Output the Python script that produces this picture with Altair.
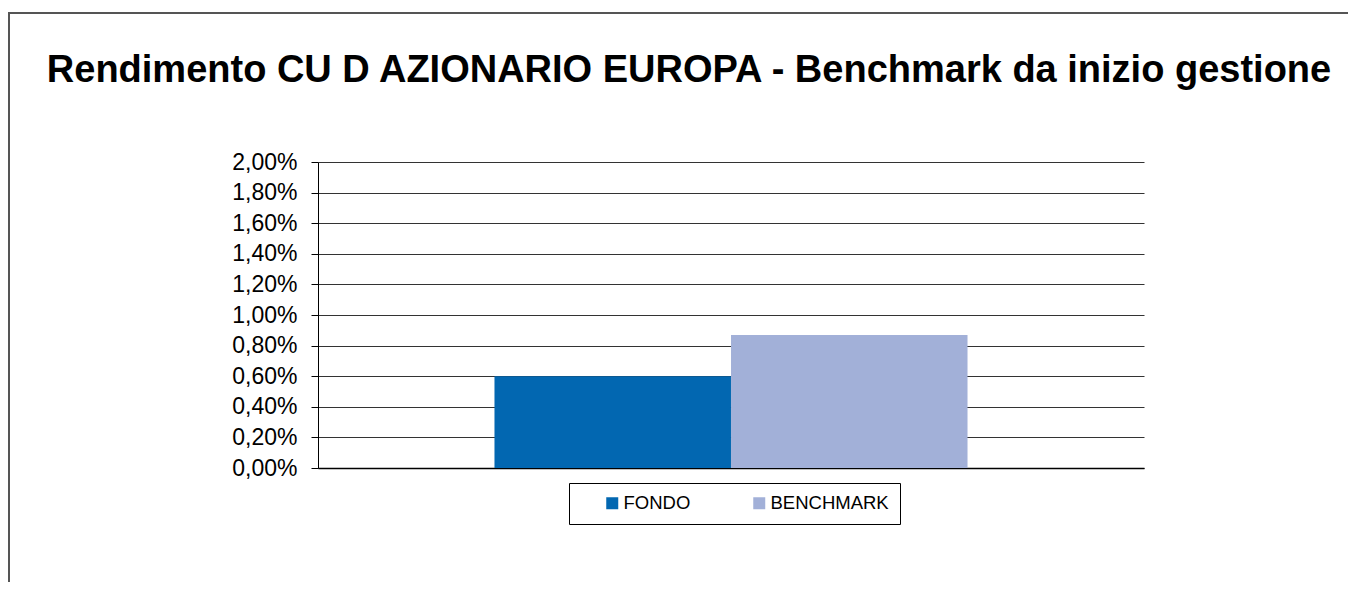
import altair as alt
import pandas as pd

serie = ["FONDO", "BENCHMARK"]
rendimento = [0.0060, 0.0087]
y_ticks = [0.0, 0.002, 0.004, 0.006, 0.008, 0.010, 0.012, 0.014, 0.016, 0.018, 0.020]
colori = ["#0267B1", "#A2B0D8"]
titolo = "Rendimento CU D AZIONARIO EUROPA - Benchmark da inizio gestione"

df = pd.DataFrame({"serie": serie, "rendimento": rendimento})
frame_df = pd.DataFrame({"k": [0]})

FONT = "Liberation Sans"

border = alt.Chart(frame_df).mark_rect(filled=False, stroke="#555555", strokeWidth=2).encode(
    x=alt.value(-309), x2=alt.value(1100), y=alt.value(-149), y2=alt.value(800)
)

bars = alt.Chart(df).mark_bar(size=236.5).encode(
    x=alt.X("serie:N", sort=serie, title=None,
            scale=alt.Scale(paddingInner=0, paddingOuter=0.746),
            axis=alt.Axis(labels=False, ticks=False, domain=True, domainColor="#000000",
                          domainWidth=1.5, grid=False)),
    y=alt.Y("rendimento:Q", title=None,
            scale=alt.Scale(domain=[0, 0.02], nice=False),
            axis=alt.Axis(values=y_ticks,
                          labelExpr="replace(format(datum.value, '.2%'), '.', ',')",
                          grid=True, gridColor="#333333", gridWidth=1,
                          domainColor="#000000", domainWidth=1,
                          tickColor="#000000", tickSize=7, labelPadding=14,
                          labelFontSize=23, labelFont=FONT, labelColor="#000000")),
    color=alt.Color("serie:N", sort=serie, title=None,
                    scale=alt.Scale(domain=serie, range=colori),
                    legend=alt.Legend(orient="none", legendX=251, legendY=321,
                                      direction="horizontal", columns=2, gridAlign="none",
                                      strokeColor="#000000", padding=11,
                                      symbolType="square", symbolSize=144,
                                      symbolStrokeWidth=0, symbolOffset=23,
                                      columnPadding=36, labelOffset=2,
                                      labelFont=FONT, labelFontSize=18.5,
                                      labelColor="#000000")),
)

chart = alt.layer(border, bars).properties(
    width=826, height=306,
    title=alt.TitleParams(titolo, fontSize=38, font=FONT, fontWeight="bold",
                          anchor="middle", dx=-42, offset=-78, color="#000000"),
    autosize=alt.AutoSizeParams(type="none"),
    padding={"left": 310, "top": 154, "right": 204, "bottom": 114},
).configure_view(stroke="transparent")

chart.save("out.html", embed_options={"renderer": "svg", "actions": False})
